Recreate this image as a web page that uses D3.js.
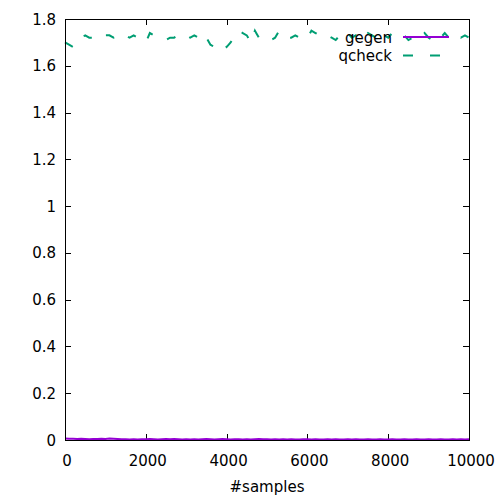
<!DOCTYPE html>
<html lang="en">
<head>
<meta charset="UTF-8">
<script src="https://d3js.org/d3.v7.min.js"></script>
<style>
  body { margin: 0; background: #fff; }
  svg { display: block; font-family: "DejaVu Sans", sans-serif; }
</style>
</head>
<body>
<div id="container"></div>
<script>
// samples, every 100
const samples = d3.range(0, 10001, 100);
const qcheck = [
  1.70, 1.69, 1.68, 1.71, 1.72, 1.73, 1.72, 1.72, 1.73, 1.72,
  1.73, 1.73, 1.72, 1.73, 1.72, 1.73, 1.72, 1.73, 1.72, 1.71,
  1.70, 1.74, 1.73, 1.72, 1.72, 1.71, 1.72, 1.72, 1.73, 1.72,
  1.73, 1.72, 1.73, 1.72, 1.74, 1.72, 1.69, 1.68, 1.69, 1.70,
  1.68, 1.70, 1.73, 1.75, 1.74, 1.73, 1.70, 1.75, 1.72, 1.71,
  1.70, 1.71, 1.72, 1.75, 1.73, 1.72, 1.72, 1.73, 1.72, 1.71,
  1.72, 1.75, 1.74, 1.73, 1.72, 1.73, 1.72, 1.71, 1.73, 1.72,
  1.74, 1.72, 1.73, 1.71, 1.72, 1.74, 1.73, 1.72, 1.75, 1.73,
  1.72, 1.74, 1.73, 1.72, 1.73, 1.71, 1.72, 1.73, 1.72, 1.74,
  1.72, 1.71, 1.73, 1.72, 1.74, 1.72, 1.71, 1.73, 1.72, 1.73,
  1.72];
const gegen = [
  0.006, 0.005, 0.005, 0.004, 0.005, 0.004, 0.003, 0.004, 0.004, 0.005,
  0.004, 0.006, 0.005, 0.004, 0.003, 0.003, 0.002, 0.003, 0.002, 0.003,
  0.003, 0.004, 0.003, 0.002, 0.003, 0.004, 0.003, 0.004, 0.003, 0.002,
  0.003, 0.002, 0.003, 0.002, 0.003, 0.004, 0.003, 0.002, 0.003, 0.004,
  0.003, 0.002, 0.003, 0.003, 0.002, 0.003, 0.002, 0.003, 0.004, 0.003,
  0.003, 0.002, 0.003, 0.002, 0.003, 0.002, 0.003, 0.002, 0.002, 0.003,
  0.003, 0.002, 0.003, 0.002, 0.002, 0.003, 0.002, 0.003, 0.002, 0.002,
  0.003, 0.002, 0.003, 0.002, 0.002, 0.003, 0.002, 0.002, 0.003, 0.002,
  0.002, 0.003, 0.002, 0.002, 0.003, 0.002, 0.002, 0.003, 0.002, 0.002,
  0.003, 0.002, 0.002, 0.003, 0.002, 0.002, 0.003, 0.002, 0.003, 0.002,
  0.003];
const xTicks = [0, 2000, 4000, 6000, 8000, 10000];
const yTicks = [0, 0.2, 0.4, 0.6, 0.8, 1, 1.2, 1.4, 1.6, 1.8];
const seriesNames = ["gegen", "qcheck"];
const seriesColors = ["#9400d3", "#009e73"];

const w = 500, h = 500;
const margin = { left: 65, right: 31, top: 19, bottom: 60 };

const svg = d3.select("#container").append("svg")
    .attr("width", w).attr("height", h);

const x = d3.scaleLinear().domain([0, 10000]).range([margin.left, w - margin.right]);
const y = d3.scaleLinear().domain([0, 1.8]).range([h - margin.bottom, margin.top]);

const tickLen = 6;
const fs = "15px";

// ticks, inward and mirrored
const tk = svg.append("g").attr("stroke", "#000").attr("stroke-width", 1);
xTicks.forEach(t => {
  const px = Math.round(x(t)) + 0.5;
  tk.append("line").attr("x1", px).attr("x2", px).attr("y1", y(0)).attr("y2", y(0) - tickLen);
  tk.append("line").attr("x1", px).attr("x2", px).attr("y1", y(1.8)).attr("y2", y(1.8) + tickLen);
});
yTicks.forEach(t => {
  const py = Math.round(y(t)) + 0.5;
  tk.append("line").attr("x1", x(0)).attr("x2", x(0) + tickLen).attr("y1", py).attr("y2", py);
  tk.append("line").attr("x1", x(10000)).attr("x2", x(10000) - tickLen).attr("y1", py).attr("y2", py);
});

// tick labels
svg.append("g").selectAll("text").data(xTicks).enter().append("text")
    .attr("x", d => x(d) + 2).attr("y", y(0) + 26)
    .attr("text-anchor", "middle").style("font-size", fs)
    .text(d => d);
svg.append("g").selectAll("text").data(yTicks).enter().append("text")
    .attr("x", x(0) - 9).attr("y", d => y(d) + 5.5)
    .attr("text-anchor", "end").style("font-size", fs)
    .text(d => d);

svg.append("text")
    .attr("x", (x(0) + x(10000)) / 2).attr("y", h - 8)
    .attr("text-anchor", "middle").style("font-size", fs)
    .text("#samples");

// lines
const line = d3.line().x((d, i) => x(samples[i])).y(d => y(d));
svg.append("path").datum(gegen)
    .attr("d", line).attr("fill", "none")
    .attr("stroke", seriesColors[0]).attr("stroke-width", 2);
svg.append("path").datum(qcheck)
    .attr("d", line).attr("fill", "none")
    .attr("stroke", seriesColors[1]).attr("stroke-width", 2)
    .attr("stroke-dasharray", "9,16");

// legend
const lg = svg.append("g");
seriesNames.forEach((name, i) => {
  const ly = 37 + i * 18.5;
  lg.append("text").attr("x", 392).attr("y", ly + 5.5)
      .attr("text-anchor", "end").style("font-size", fs).text(name);
  lg.append("line").attr("x1", 403).attr("x2", 449).attr("y1", ly).attr("y2", ly)
      .attr("stroke", seriesColors[i]).attr("stroke-width", 2)
      .attr("stroke-dasharray", i === 1 ? "10,17" : null);
});

// border
svg.append("rect")
    .attr("x", x(0) + 0.5).attr("y", y(1.8) + 0.5)
    .attr("width", x(10000) - x(0)).attr("height", y(0) - y(1.8))
    .attr("fill", "none").attr("stroke", "#000").attr("stroke-width", 1);
</script>
</body>
</html>
